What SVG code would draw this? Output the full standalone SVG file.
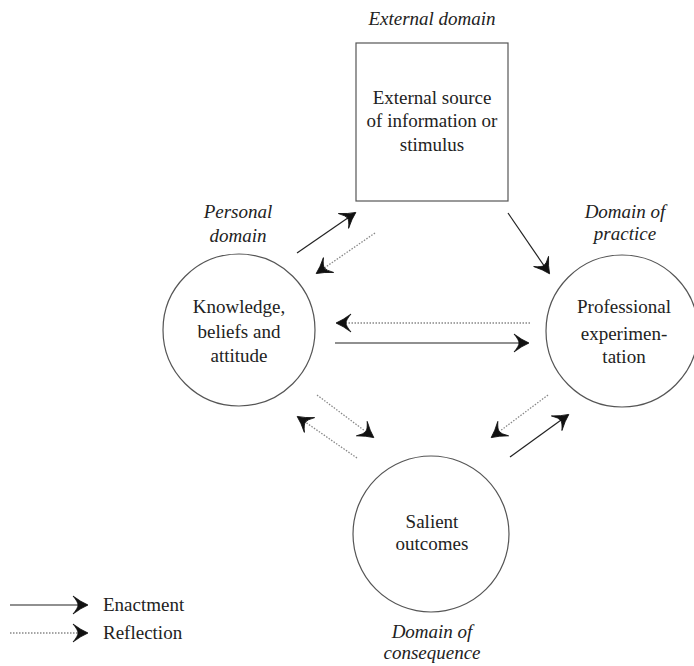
<svg xmlns="http://www.w3.org/2000/svg" width="694" height="666" viewBox="0 0 694 666">
<style>
text{font-family:"Liberation Serif","Times New Roman",serif;font-size:19px;fill:#222;text-anchor:middle}
.it{font-style:italic}
.lg{text-anchor:start}
.shape{fill:#fff;stroke:#555;stroke-width:1.2}
.en{stroke:#222;stroke-width:1.2;fill:none;marker-end:url(#ah)}
.rf{stroke:#888;stroke-width:1.3;stroke-dasharray:1.5 1.5;fill:none;marker-end:url(#ah)}
</style>
<defs>
<marker id="ah" markerUnits="userSpaceOnUse" viewBox="-16 -10 18 20" refX="0" refY="0" markerWidth="18" markerHeight="20" orient="auto">
<path d="M1,0 Q-6,-3 -14,-9 Q-9,-3 -9,0 Q-9,3 -14,9 Q-6,3 1,0 Z" fill="#111" stroke="#111" stroke-width="0.8" stroke-linejoin="round"/>
</marker>
</defs>
<g id="external">
<text class="it" x="432" y="25">External domain</text>
<rect class="shape" x="356" y="43" width="152" height="158"/>
<text x="432" y="104">External source</text>
<text x="432" y="127">of information or</text>
<text x="432" y="151">stimulus</text>
</g>
<g id="personal">
<text class="it" x="238" y="218">Personal</text>
<text class="it" x="238" y="242">domain</text>
<circle class="shape" cx="239" cy="330" r="76"/>
<text x="239" y="313">Knowledge,</text>
<text x="239" y="338">beliefs and</text>
<text x="239" y="362">attitude</text>
</g>
<g id="practice">
<text class="it" x="625" y="218">Domain of</text>
<text class="it" x="625" y="240">practice</text>
<circle class="shape" cx="622" cy="331" r="76"/>
<text x="624" y="313">Professional</text>
<text x="624" y="340">experimen-</text>
<text x="624" y="363">tation</text>
</g>
<g id="consequence">
<circle class="shape" cx="431" cy="534" r="78"/>
<text x="432" y="528">Salient</text>
<text x="432" y="550">outcomes</text>
<text class="it" x="432" y="638">Domain of</text>
<text class="it" x="432" y="659">consequence</text>
</g>
<g id="connectors">
<line class="en" x1="297" y1="253" x2="355" y2="213"/>
<line class="rf" x1="375" y1="233" x2="317" y2="273"/>
<line class="en" x1="508" y1="213" x2="549" y2="273"/>
<line class="rf" x1="530" y1="323" x2="337" y2="323"/>
<line class="en" x1="335" y1="343" x2="528" y2="343"/>
<line class="rf" x1="317" y1="395" x2="373" y2="437"/>
<line class="rf" x1="357" y1="458" x2="298" y2="417"/>
<line class="rf" x1="548" y1="395" x2="492" y2="437"/>
<line class="en" x1="510" y1="457" x2="568" y2="415"/>
</g>
<g id="legend">
<line class="en" x1="10" y1="605" x2="87" y2="605"/>
<text class="lg" x="103" y="611">Enactment</text>
<line class="rf" x1="10" y1="633" x2="87" y2="633"/>
<text class="lg" x="103" y="639">Reflection</text>
</g>
</svg>
